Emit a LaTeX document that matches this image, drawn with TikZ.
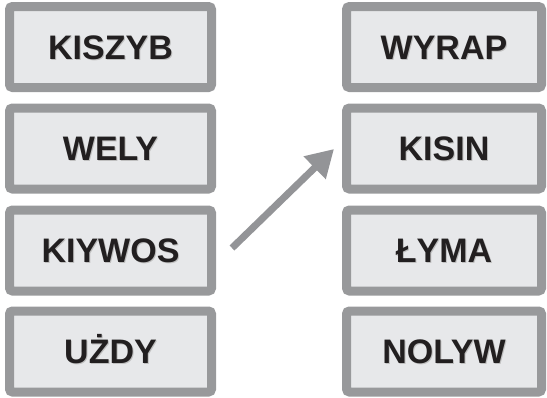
\documentclass[tikz,border=0pt]{standalone}
\usepackage{fontspec}
\setmainfont{Liberation Sans}
\usetikzlibrary{arrows.meta}
\definecolor{boxborder}{HTML}{98999B}
\definecolor{boxfill}{HTML}{E7E8EA}
\definecolor{txt}{HTML}{221F20}
\definecolor{arrowgray}{HTML}{939497}
\newcommand{\wordlabel}[1]{\fontsize{34}{34}\selectfont\bfseries #1}
\tikzset{
  wordbox/.style={draw=boxborder, fill=boxfill, line width=9pt, rounded corners=3pt,
    minimum height=81pt, inner sep=0pt, text=txt, font=\wordlabel},
  leftbox/.style={wordbox, minimum width=202pt},
  rightbox/.style={wordbox, minimum width=195pt},
  wordtext/.style={text=txt, font=\wordlabel, inner sep=0pt, anchor=base},
  shadowtext/.style={wordtext, text=black!25},
  bigarrow/.style={draw=arrowgray, line width=7pt, -{Triangle[length=27pt,width=30pt]}}
}
\begin{document}
\begin{tikzpicture}[x=1pt,y=-1pt]
\useasboundingbox (0,0) rectangle (547,397);
% left column
\node[leftbox] (l1) at (110.5,47) {};
\node[leftbox] (l2) at (110.5,148.5) {};
\node[leftbox] (l3) at (110.5,250.5) {};
\node[leftbox] (l4) at (110.5,351.5) {};
% right column
\node[rightbox] (r1) at (444,47) {};
\node[rightbox] (r2) at (444,148.5) {};
\node[rightbox] (r3) at (444,250.5) {};
\node[rightbox] (r4) at (444,351.5) {};
% texts with soft shadow
\foreach \n/\t in {l1/KISZYB, l2/WELY, l3/KIYWOS, l4/UŻDY, r1/WYRAP, r2/KISIN, r3/ŁYMA, r4/NOLYW}{
  \node[shadowtext] (\n s) at ([shift={(1,13)}]\n.center) {\t};
  \node[wordtext] (\n t) at ([shift={(0,12.2)}]\n.center) {\t};
}
% arrow
\coordinate (atail) at (232,248);
\coordinate (ahead) at (334,149);
\draw[bigarrow] (atail) -- (ahead);
\end{tikzpicture}
\end{document}
